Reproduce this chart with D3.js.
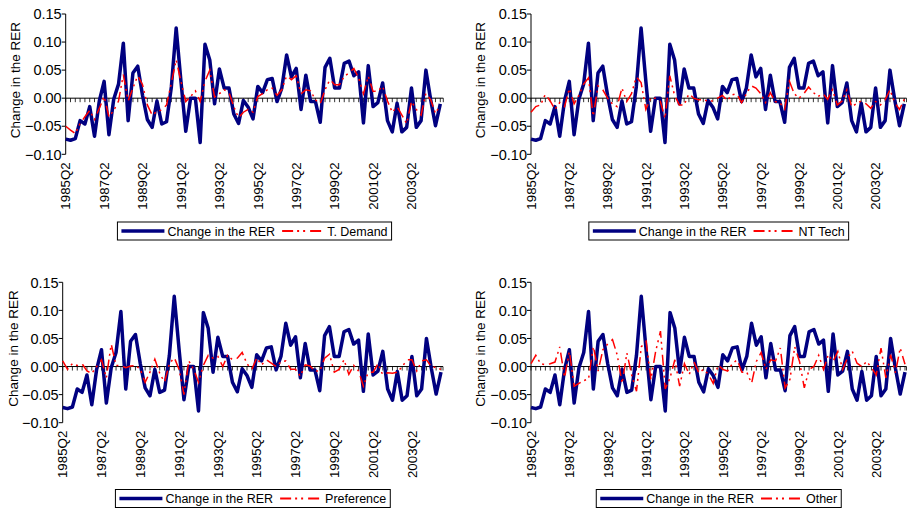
<!DOCTYPE html>
<html><head><meta charset="utf-8">
<script src="https://cdn.jsdelivr.net/npm/d3@7"></script>
<style>body{margin:0;background:#fff} svg{display:block;font-family:"Liberation Sans",Arial,sans-serif}</style>
</head><body><svg id="c" width="907" height="509"></svg>
<script>
// ---------- DATA ----------
const rer = [-0.073,-0.075,-0.072,-0.040,-0.046,-0.015,-0.068,-0.005,0.030,-0.065,
 -0.002,0.025,0.098,-0.040,0.045,0.057,0.005,-0.038,-0.052,-0.005,
 -0.046,-0.042,0.020,0.125,0.030,-0.059,0.000,0.000,-0.079,0.096,
 0.068,-0.010,0.052,0.018,0.018,-0.028,-0.045,-0.004,-0.016,-0.037,
 0.021,0.010,0.033,0.035,-0.006,0.018,0.077,0.038,0.053,-0.020,
 0.041,-0.006,-0.006,-0.043,0.055,0.071,0.018,0.018,0.062,0.066,
 0.040,0.047,-0.044,0.058,-0.015,-0.008,0.027,-0.040,-0.060,-0.009,
 -0.060,-0.052,0.018,-0.052,-0.040,0.050,-0.003,-0.049,-0.010];
const tDemand = [-0.050,-0.057,-0.063,-0.045,-0.033,-0.022,-0.038,-0.018,0.003,-0.033,
 -0.022,-0.005,0.042,-0.005,0.018,0.040,0.024,-0.012,-0.030,-0.024,
 -0.021,-0.012,0.027,0.068,0.030,-0.006,0.003,0.013,-0.006,0.030,
 0.050,0.002,0.008,0.015,0.010,-0.015,-0.035,-0.025,-0.020,-0.025,
 0.003,0.008,0.015,0.018,0.005,0.015,0.040,0.033,0.040,0.008,
 0.015,0.013,-0.003,-0.010,0.015,0.033,0.024,0.024,0.039,0.045,
 0.053,0.036,0.008,0.039,0.012,0.013,0.021,-0.005,-0.025,-0.015,
 -0.030,-0.045,-0.006,-0.020,-0.030,0.009,-0.003,-0.027,-0.012];
const ntTech = [-0.025,-0.015,-0.012,0.007,-0.005,-0.020,-0.008,-0.015,0.017,-0.010,
 0.005,0.025,0.036,-0.032,0.022,0.015,0.000,-0.010,-0.015,0.018,
 -0.006,0.008,0.038,0.028,-0.020,0.000,0.000,-0.005,-0.036,0.040,
 0.005,-0.012,-0.012,0.008,0.000,-0.003,-0.003,-0.005,-0.005,0.000,
 0.005,-0.004,0.006,0.008,-0.008,0.008,0.022,0.018,0.008,-0.008,
 0.010,-0.006,-0.008,-0.020,0.030,0.008,0.000,0.008,0.020,0.010,
 0.003,0.008,-0.002,0.015,-0.012,-0.005,0.015,-0.015,-0.010,-0.005,
 -0.010,-0.018,-0.006,-0.012,-0.003,0.015,-0.008,-0.020,-0.002];
const preference = [0.010,-0.005,0.005,0.002,0.005,-0.008,-0.012,0.000,0.012,-0.020,
 0.040,0.002,0.002,-0.002,0.001,0.002,-0.005,-0.028,-0.010,0.013,
 -0.012,-0.028,0.005,0.016,-0.005,-0.050,0.010,-0.005,-0.028,0.002,
 0.020,0.015,0.018,0.000,0.020,0.012,0.015,0.025,0.005,-0.005,
 0.015,0.003,0.012,0.006,0.000,0.008,0.010,-0.005,-0.005,-0.017,
 0.003,0.001,-0.008,-0.008,0.015,0.022,-0.010,-0.005,0.012,-0.014,
 0.002,-0.008,-0.035,-0.010,-0.010,0.005,-0.015,-0.011,-0.012,-0.010,
 0.000,0.012,0.012,-0.008,0.010,0.012,0.000,-0.002,-0.005];
const other = [0.005,0.020,0.005,0.003,0.005,0.008,0.035,-0.020,0.027,-0.035,
 -0.030,-0.025,-0.022,0.036,-0.008,0.030,0.040,0.048,0.020,-0.030,
 0.024,-0.015,-0.044,0.035,0.045,-0.023,0.027,0.063,-0.040,-0.020,
 0.012,-0.035,0.005,-0.014,0.008,-0.011,-0.005,-0.014,-0.030,0.003,
 -0.005,-0.008,0.005,0.012,-0.010,-0.010,-0.030,0.009,0.025,-0.005,
 0.012,0.010,0.033,-0.038,-0.023,0.035,0.009,-0.038,-0.005,0.000,
 0.020,-0.005,0.021,0.009,0.027,-0.005,0.015,0.027,0.006,0.000,
 0.009,-0.002,-0.015,0.033,-0.020,0.021,-0.011,0.033,0.004];
const seriesNames = ["Change in the RER","T. Demand","NT Tech","Preference","Other"];
const yTicks = [0.15,0.10,0.05,0.00,-0.05,-0.10];
const xTickLabels = ["1985Q2","1987Q2","1989Q2","1991Q2","1993Q2","1995Q2","1997Q2","1999Q2","2001Q2","2003Q2"];
const periods = [];
for (let yr = 1985, q = 2; periods.length < rer.length; ) { periods.push(yr + "Q" + q); q++; if (q > 4) { q = 1; yr++; } }

// ---------- LAYOUT ----------
const panels = [
  {comp: tDemand,    name: seriesNames[1], x0: 65.7, x1: 440.3, xe: 443.3, y0: 14,    y1: 154.3, ylabX: 15,  legY: 222},
  {comp: ntTech,     name: seriesNames[2], x0: 531,  x1: 904.3, xe: 906.5, y0: 14,    y1: 154.3, ylabX: 480, legY: 222},
  {comp: preference, name: seriesNames[3], x0: 62.7, x1: 441,   xe: 443,   y0: 282.3, y1: 422.7, ylabX: 13.5,legY: 489.5},
  {comp: other,      name: seriesNames[4], x0: 531,  x1: 905,   xe: 906.5, y0: 282.3, y1: 422.7, ylabX: 480, legY: 489.5}
];
const BLUE = "#000080", RED = "#ff0000", DASH = "11,4,2,4,2,5";
const svg = d3.select("#c");

panels.forEach(p => {
  const g = svg.append("g");
  const x = d3.scaleLinear().domain([0, rer.length - 1]).range([p.x0, p.x1]);
  const y = d3.scaleLinear().domain([-0.10, 0.15]).range([p.y1, p.y0]);

  // y axis
  g.append("line").attr("x1", p.x0).attr("x2", p.x0).attr("y1", y(0.15)).attr("y2", y(-0.10))
    .attr("stroke", "#000").attr("stroke-width", 1);
  yTicks.forEach(t => {
    g.append("line").attr("x1", p.x0 - 4).attr("x2", p.x0).attr("y1", y(t)).attr("y2", y(t)).attr("stroke", "#000");
    g.append("text").attr("x", p.x0 - 4).attr("y", y(t)).attr("dy", "0.36em").attr("text-anchor", "end")
      .attr("font-size", 14.5).text(d3.format(".2f")(t));
  });
  // y label
  g.append("text").attr("transform", `translate(${p.ylabX},${(p.y0 + p.y1) / 2 - 4}) rotate(-90)`)
    .attr("dy", "0.36em").attr("text-anchor", "middle").attr("font-size", 13.5).text("Change in the RER");

  // zero line with category ticks
  g.append("line").attr("x1", p.x0).attr("x2", p.xe).attr("y1", y(0)).attr("y2", y(0)).attr("stroke", "#000");
  periods.forEach((d, i) => {
    g.append("line").attr("x1", x(i)).attr("x2", x(i)).attr("y1", y(0)).attr("y2", y(0) + 4)
      .attr("stroke", "#000").attr("stroke-width", 0.8);
  });
  g.append("line").attr("x1", p.xe).attr("x2", p.xe).attr("y1", y(0)).attr("y2", y(0) + 4)
    .attr("stroke", "#000").attr("stroke-width", 0.8);

  // x labels
  xTickLabels.forEach(lab => {
    const i = periods.indexOf(lab);
    g.append("text").attr("transform", `translate(${x(i)},${p.y1 + 8}) rotate(-90)`)
      .attr("dy", "0.36em").attr("text-anchor", "end").attr("font-size", 13.3).text(lab);
  });

  // series
  const line = d3.line().x((d, i) => x(i)).y(d => y(d));
  g.append("path").datum(rer).attr("d", line).attr("fill", "none").attr("stroke", BLUE)
    .attr("stroke-width", 3.5).attr("stroke-linejoin", "round");
  g.append("path").datum(p.comp).attr("d", line).attr("fill", "none").attr("stroke", RED)
    .attr("stroke-width", 1.5).attr("stroke-dasharray", DASH);

  // legend
  const lg = g.append("g");
  const fs = 12.5, sw = 43;
  const t1 = lg.append("text").attr("font-size", fs).text(seriesNames[0]);
  const t2 = lg.append("text").attr("font-size", fs).text(p.name);
  const w1 = t1.node().getComputedTextLength(), w2 = t2.node().getComputedTextLength();
  const total = 4 + sw + 3 + w1 + 7 + sw + 2 + w2 + 4;
  const lx = (p.x0 + p.xe) / 2 - total / 2, ly = p.legY, lh = 18;
  lg.insert("rect", "text").attr("x", lx).attr("y", ly).attr("width", total).attr("height", lh)
    .attr("fill", "#fff").attr("stroke", "#000").attr("stroke-width", 1);
  const cy = ly + lh / 2;
  lg.append("line").attr("x1", lx + 4).attr("x2", lx + 4 + sw).attr("y1", cy).attr("y2", cy)
    .attr("stroke", BLUE).attr("stroke-width", 3.5);
  t1.attr("x", lx + 4 + sw + 3).attr("y", cy).attr("dy", "0.36em");
  const rx = lx + 4 + sw + 3 + w1 + 7;
  lg.append("line").attr("x1", rx).attr("x2", rx + sw).attr("y1", cy).attr("y2", cy)
    .attr("stroke", RED).attr("stroke-width", 2).attr("stroke-dasharray", DASH);
  t2.attr("x", rx + sw + 2).attr("y", cy).attr("dy", "0.36em");
});
</script></body></html>
